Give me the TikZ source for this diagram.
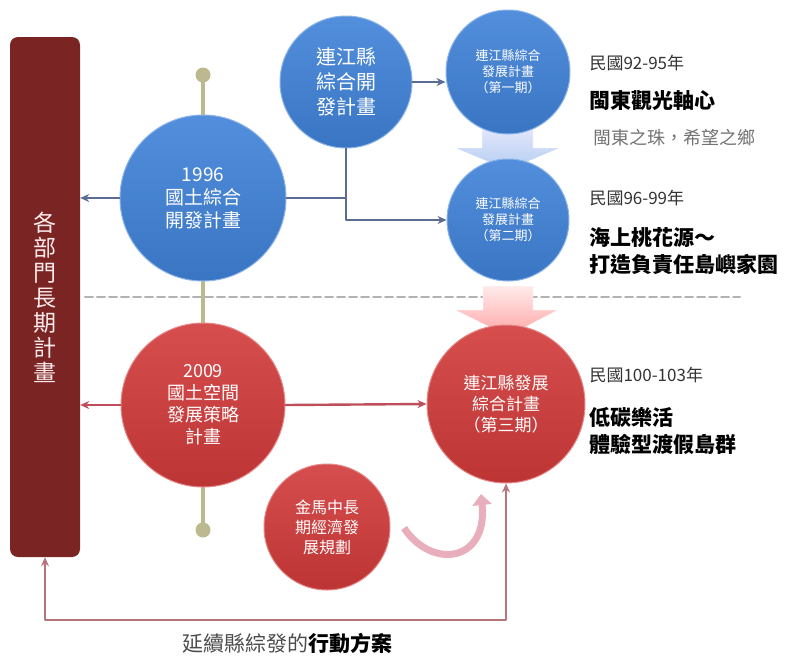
\documentclass[tikz,border=0pt]{standalone}
\usepackage{fontspec}
\setmainfont{Noto Sans CJK TC}
\usetikzlibrary{arrows.meta}
\definecolor{barred}{HTML}{7A2424}
\definecolor{ballblue}{HTML}{3F82D8}
\definecolor{ballred}{HTML}{D23A3A}
\definecolor{linkblue}{HTML}{5B6C94}
\definecolor{linkred}{HTML}{BE4E5C}
\definecolor{loopred}{HTML}{B8747C}
\definecolor{olive}{HTML}{BDB98E}
\definecolor{curvepink}{HTML}{E9AEBB}
\newcommand{\fs}[2]{\fontsize{#1}{#2}\selectfont}
\begin{document}
\begin{tikzpicture}[x=1pt, y=-1pt, >={Stealth[length=9pt,width=8pt]}, line join=round, line cap=round,
    ball/.style={circle, inner sep=0pt, align=center, text=white, line width=1pt,
      draw=#1!60!white, top color=#1!90!white, bottom color=#1!90!black},
    bluelink/.style={linkblue, line width=2.4pt},
    redlink/.style={linkred, line width=2.4pt},
    year/.style={anchor=west, text=black!80, font=\fs{17}{20}},
    motto/.style={anchor=west, align=left, font=\fs{21}{27}\bfseries}]
  \useasboundingbox (0,0) rectangle (809,657);
  % timeline and separator
  \draw[olive, line width=4.5pt] (203,75) -- (203,530);
  \fill[olive] (203,75) circle (7.5) (203,530) circle (7.5);
  \draw[black!30, line width=2pt, dash pattern=on 8pt off 4pt] (85,297) -- (740,297);
  % block arrows
  \shade[top color=blue!8, bottom color=ballblue!40, draw=white]
    (482,122) -- (533,122) -- (533,148) -- (560,148) -- (508,170) -- (455,148) -- (482,148) -- cycle;
  \shade[top color=red!8, bottom color=red!35, draw=white]
    (483,286) -- (533,286) -- (533,310) -- (558,310) -- (508,336) -- (455,310) -- (483,310) -- cycle;
  % nodes
  \node[rectangle, rounded corners=8pt, fill=barred, minimum width=70pt, minimum height=520pt,
    text=white!92!red, align=center, font=\fs{23}{25}] (bar) at (45,297)
    {各\\部\\門\\長\\期\\計\\畫};
  \node[ball=ballblue, minimum size=166pt, font=\fs{19}{23}] (c1996) at (203,198) {1996\\國土綜合\\開發計畫};
  \node[ball=ballblue, minimum size=132pt, font=\fs{20}{25}] (ljplan) at (346,82) {連江縣\\綜合開\\發計畫};
  \node[ball=ballblue, minimum size=124pt, font=\fs{13}{16}] (phase1) at (508,72) {連江縣綜合\\發展計畫\\（第一期）};
  \node[ball=ballblue, minimum size=122pt, font=\fs{13}{16}] (phase2) at (508,220) {連江縣綜合\\發展計畫\\（第二期）};
  \node[ball=ballred, minimum size=164pt, font=\fs{18}{22}] (c2009) at (203,405) {2009\\國土空間\\發展策略\\計畫};
  \node[ball=ballred, minimum size=158pt, font=\fs{17}{21}] (phase3) at (506,404) {連江縣發展\\綜合計畫\\（第三期）};
  \node[ball=ballred, minimum size=126pt, font=\fs{16}{20}] (kinma) at (327,527) {金馬中長\\期經濟發\\展規劃};
  % connectors
  \draw[bluelink, ->] (c1996.west) -- (c1996.west -| bar.east);
  \draw[bluelink] (c1996.east) -- (c1996.east -| ljplan.south);
  \draw[bluelink, ->] (ljplan.south) |- (phase2.west);
  \draw[bluelink, ->] (ljplan.east) -- (ljplan.east -| phase1.west);
  \draw[redlink, ->] (c2009.west) -- (c2009.west -| bar.east);
  \draw[redlink, ->] (c2009.east) -- (phase3.west);
  \coordinate (turn) at (45,620);
  \draw[loopred, line width=2.4pt, <->] (bar.south) -- (turn) -| (phase3.south);
  \draw[curvepink, line width=7pt, line cap=butt, -{Triangle[length=11pt,width=19pt]}]
    (404,528) .. controls (432,570) and (488,562) .. (481,494);
  % captions
  \foreach \n/\y/\t in {yr1/63/92-95, yr2/198/96-99, yr3/375/100-103}
    \node[year] (\n) at (586,\y) {民國\t 年};
  \node[motto] (motto1) at (586,101) {閩東觀光軸心};
  \node[anchor=west, text=black!55, font=\fs{18}{20}] (slogan) at (590,138) {閩東之珠，希望之鄉};
  \node[motto] (motto2) at (586,251) {海上桃花源～\\打造負責任島嶼家園};
  \node[motto] (motto3) at (586,431) {低碳樂活\\體驗型渡假島群};
  \node[font=\fs{21}{24}] (plan) at (287,643) {\textcolor{black!70}{延續縣綜發的}\textbf{行動方案}};
\end{tikzpicture}
\end{document}
